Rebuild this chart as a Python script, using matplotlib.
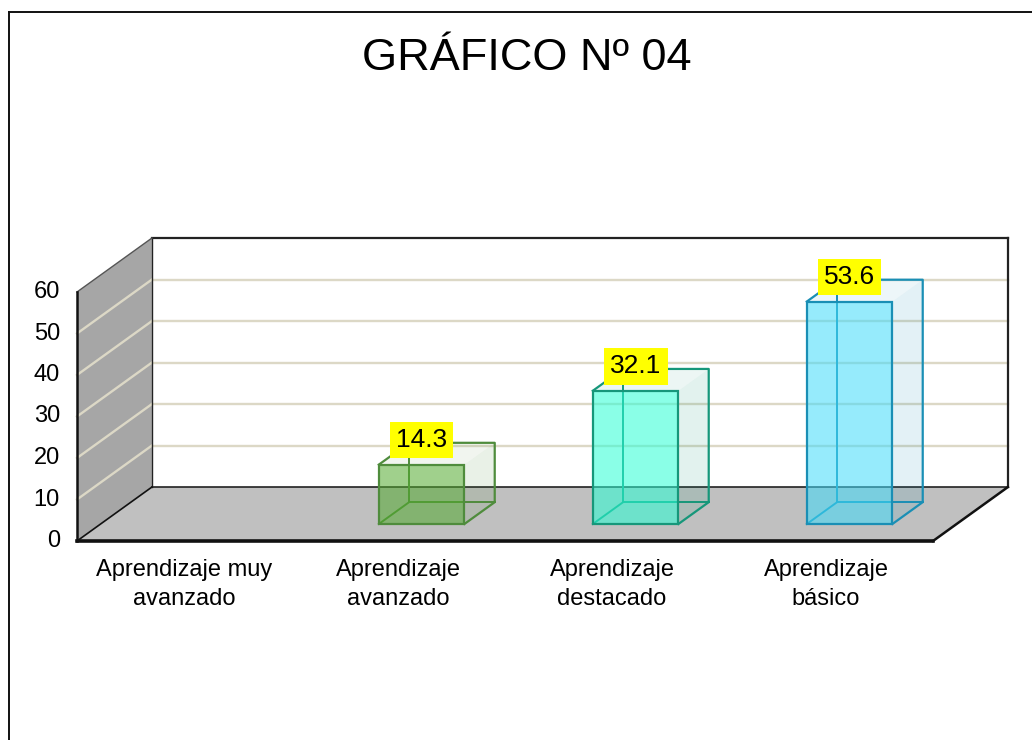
import matplotlib
matplotlib.use("Agg")
import matplotlib.pyplot as plt
from matplotlib.patches import Polygon

plt.rcParams['font.family'] = ['Liberation Sans', 'DejaVu Sans']

# data
categories = ['Aprendizaje muy\navanzado', 'Aprendizaje\navanzado',
              'Aprendizaje\ndestacado', 'Aprendizaje\nbásico']
values = [0, 14.3, 32.1, 53.6]
y_ticks = [0, 10, 20, 30, 40, 50, 60]
title = 'GRÁFICO Nº 04'

# bar styles (front colour, edge colour)
bar_colors = ['#52aa2e', '#52aa2e', '#2affd5', '#40dbfa']
edge_colors = ['#4f8c3c', '#4f8c3c', '#16977a', '#1a8fb5']

# oblique projection of the 3D box: depth z in [0, 1]
DX = 0.35    # shift in category units per unit depth
DY = 13.0    # shift in value units per unit depth
YMAX = 60
Z_FRONT, Z_BACK = 0.315, 0.72
BAR_W = 0.40


def proj(x, v, z):
    return (x + z * DX, v + z * DY)


fig = plt.figure(figsize=(10.32, 7.4), dpi=100)
ax = fig.add_axes([0, 0, 1, 1])
ax.set_xlim(-0.5 - 77 / 214, -0.5 + (1032 - 77) / 214)
ax.set_ylim(-(740 - 541) / 4.15, 541 / 4.15)
ax.axis('off')

n = len(categories)
x_left, x_right = -0.5, n - 0.5
grid_c = '#dcd8c6'

# back wall
back = [proj(x_left, 0, 1), proj(x_right, 0, 1), proj(x_right, YMAX, 1), proj(x_left, YMAX, 1)]
ax.add_patch(Polygon(back, closed=True, facecolor='white', edgecolor='none', zorder=1))
# side wall
side = [proj(x_left, 0, 0), proj(x_left, 0, 1), proj(x_left, YMAX, 1), proj(x_left, YMAX, 0)]
ax.add_patch(Polygon(side, closed=True, facecolor='#a6a6a6', edgecolor='none', zorder=1))
# floor
floor = [proj(x_left, 0, 0), proj(x_right, 0, 0), proj(x_right, 0, 1), proj(x_left, 0, 1)]
ax.add_patch(Polygon(floor, closed=True, facecolor='#c0c0c0', edgecolor='none', zorder=1))

# gridlines on back and side walls
for t in y_ticks[1:-1]:
    p0, p1 = proj(x_left, t, 1), proj(x_right, t, 1)
    ax.plot([p0[0], p1[0]], [p0[1], p1[1]], color=grid_c, lw=1.7, zorder=2)
    q0 = proj(x_left, t, 0)
    ax.plot([q0[0], p0[0]], [q0[1], p0[1]], color=grid_c, lw=1.7, zorder=2)


def edge(a, b, **kw):
    ax.plot([a[0], b[0]], [a[1], b[1]], solid_capstyle='projecting', **kw)


# wall outlines
edge(proj(x_left, YMAX, 1), proj(x_right, YMAX, 1), color='#222222', lw=1.6, zorder=3)
edge(proj(x_right, YMAX, 1), proj(x_right, 0, 1), color='#222222', lw=1.6, zorder=3)
edge(proj(x_left, 0, 1), proj(x_right, 0, 1), color='#222222', lw=1.2, zorder=3)
edge(proj(x_left, 0, 1), proj(x_left, YMAX, 1), color='#222222', lw=1.0, zorder=3)
edge(proj(x_left, YMAX, 0), proj(x_left, YMAX, 1), color='#555555', lw=1.0, zorder=3)
edge(proj(x_left, 0, 0), proj(x_left, YMAX, 0), color='#111111', lw=1.8, zorder=3)
edge(proj(x_left, 0, 0), proj(x_left, 0, 1), color='#111111', lw=1.2, zorder=3)
edge(proj(x_right, 0, 0), proj(x_right, 0, 1), color='#111111', lw=1.8, zorder=3)
edge(proj(x_left, 0, 0), proj(x_right, 0, 0), color='#111111', lw=2.6, zorder=3)

# bars
for i, v in enumerate(values):
    if v <= 0:
        continue
    fc, ec = bar_colors[i], edge_colors[i]
    x0, x1 = i - BAR_W / 2, i + BAR_W / 2
    zf, zb = Z_FRONT, Z_BACK
    # hidden edges
    edge(proj(x0, 0, zb), proj(x0, v, zb), color=ec, lw=1.4, zorder=4)
    edge(proj(x0, 0, zb), proj(x1, 0, zb), color=ec, lw=1.4, zorder=4)
    edge(proj(x0, 0, zf), proj(x0, 0, zb), color=ec, lw=1.4, zorder=4)
    # right and top faces
    right = [proj(x1, 0, zf), proj(x1, 0, zb), proj(x1, v, zb), proj(x1, v, zf)]
    top = [proj(x0, v, zf), proj(x0, v, zb), proj(x1, v, zb), proj(x1, v, zf)]
    ax.add_patch(Polygon(right, closed=True, facecolor=ec, alpha=0.12, edgecolor='none', zorder=5))
    ax.add_patch(Polygon(top, closed=True, facecolor=ec, alpha=0.08, edgecolor='none', zorder=5))
    # front face
    front = [proj(x0, 0, zf), proj(x1, 0, zf), proj(x1, v, zf), proj(x0, v, zf)]
    ax.add_patch(Polygon(front, closed=True, facecolor=fc, alpha=0.55, edgecolor='none', zorder=6))
    ax.add_patch(Polygon(front, closed=True, facecolor='none', edgecolor=ec, lw=1.6, zorder=7))
    # visible outline of right and top faces
    pts = [proj(x1, 0, zf), proj(x1, 0, zb), proj(x1, v, zb), proj(x0, v, zb), proj(x0, v, zf)]
    ax.plot([p[0] for p in pts], [p[1] for p in pts], color=ec, lw=1.6, zorder=7)
    # value label
    lx, ly = proj(i, v, zf)
    ax.text(lx, v + 10.0, f'{v:.1f}', ha='center', va='center', fontsize=19,
            zorder=8, bbox=dict(boxstyle='square,pad=0.24', facecolor='#ffff00', edgecolor='none'))

# y tick labels on the front edge of the side wall
for t in y_ticks:
    ax.text(x_left - 0.08, t, str(t), ha='right', va='center', fontsize=17)

# category labels along the front of the floor
for i, c in enumerate(categories):
    ax.text(i, -4.3, c, ha='center', va='top', fontsize=17, linespacing=1.42)

fig.text(0.51, 1 - 58 / 740, title, ha='center', va='center', fontsize=32.5)

# chart frame (continues past the right and bottom edges)
fig.add_artist(plt.Line2D([8.5 / 1032, 8.5 / 1032], [-0.05, 1 - 12 / 740],
                          transform=fig.transFigure, color='#111111', lw=1.4))
fig.add_artist(plt.Line2D([8.5 / 1032, 1.05], [1 - 12 / 740, 1 - 12 / 740],
                          transform=fig.transFigure, color='#111111', lw=1.4))

fig.savefig('out.png', dpi=100)
